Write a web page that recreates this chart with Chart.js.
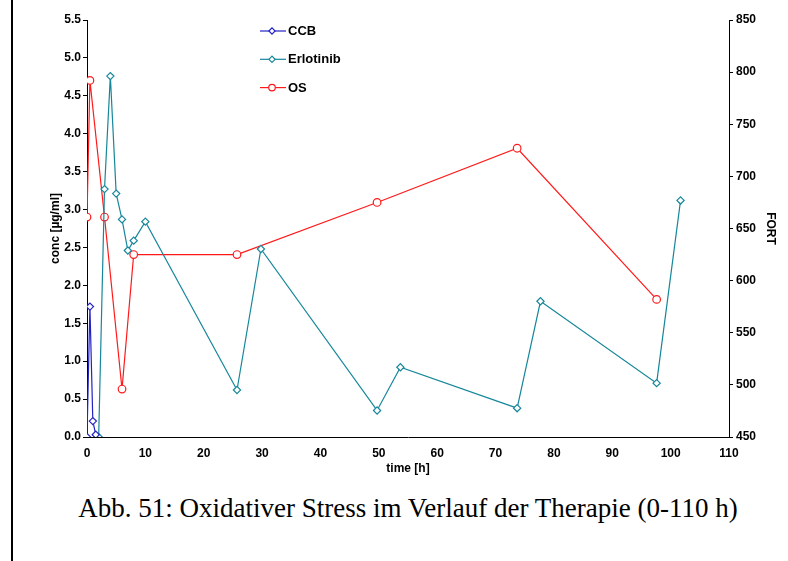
<!DOCTYPE html>
<html>
<head>
<meta charset="utf-8">
<script src="https://cdn.jsdelivr.net/npm/chart.js@4/dist/chart.umd.min.js"></script>
<style>
  html, body { margin: 0; padding: 0; background: #fff; }
  #page { position: relative; width: 788px; height: 561px; overflow: hidden; }
  #rule { position: absolute; left: 11px; top: 0; width: 2px; height: 561px; background: #000; }
  #plot { position: absolute; left: 0; top: 0; width: 788px; height: 480px; }
  #caption {
    position: absolute; left: 0; width: 816px; top: 491px; text-align: center;
    font-family: "Liberation Serif", "Times New Roman", serif; font-size: 27px; color: #000;
    line-height: 34px;
  }
</style>
</head>
<body>
<div id="page">
  <div id="rule"></div>
  <div id="plot"><canvas id="c" width="788" height="480"></canvas></div>
  <div id="caption">Abb. 51: Oxidativer Stress im Verlauf der Therapie (0-110 h)</div>
</div>
<script>
// time in hours
const ccbTime = [0, 0.5, 1, 1.5];
const ccbConc = [0, 1.72, 0.21, 0.03];

const erlTime = [2, 3, 4, 5, 6, 7, 8, 10, 25.7, 29.8, 49.7, 53.7, 73.7, 77.7, 97.6, 101.7];
const erlConc = [0, 3.27, 4.76, 3.21, 2.87, 2.46, 2.59, 2.84, 0.62, 2.48, 0.35, 0.92, 0.38, 1.79, 0.71, 3.12];

const osTime = [0, 0.5, 3, 6, 8, 25.7, 49.7, 73.7, 97.6];
const osFort = [661, 792, 661, 496, 625, 625, 675, 727, 582];

const xTicks = [0, 10, 20, 30, 40, 50, 60, 70, 80, 90, 100, 110];

const pts = (xs, ys) => xs.map((x, i) => ({ x, y: ys[i] }));
const FONT = "'Liberation Sans', Arial, sans-serif";
const tickFont = { family: FONT, size: 12, weight: "bold" };

function series(label, data, color, style, radius, axis) {
  return {
    label, data, yAxisID: axis, showLine: true,
    borderColor: color, borderWidth: 1.2,
    pointStyle: style, pointRadius: radius, pointBorderWidth: 1.2,
    pointBorderColor: color, pointBackgroundColor: "#fff",
    backgroundColor: color,
  };
}

// legend drawn inside the plot, one row per dataset
const innerLegend = {
  id: "innerLegend",
  afterDraw(chart) {
    const ctx = chart.ctx;
    ctx.save();
    ctx.font = "bold 13px " + FONT;
    ctx.textBaseline = "middle";
    chart.data.datasets.forEach((ds, i) => {
      const y = 31 + i * 28.3;
      ctx.strokeStyle = ds.borderColor;
      ctx.lineWidth = 1.2;
      ctx.beginPath(); ctx.moveTo(260, y); ctx.lineTo(286, y); ctx.stroke();
      ctx.fillStyle = "#fff";
      Chart.helpers.drawPoint(ctx, { pointStyle: ds.pointStyle, radius: ds.pointRadius - 0.5, rotation: 0, borderWidth: 1.2 }, 272, y);
      ctx.fillStyle = "#000";
      ctx.fillText(ds.label, 288, y + 0.5);
    });
    ctx.restore();
  },
};

new Chart(document.getElementById("c"), {
  type: "scatter",
  data: {
    datasets: [
      series("CCB", pts(ccbTime, ccbConc), "#2424c4", "rectRot", 3.6, "y"),
      series("Erlotinib", pts(erlTime, erlConc), "#16879a", "rectRot", 3.6, "y"),
      series("OS", pts(osTime, osFort), "#ff1a1a", "circle", 3.8, "y2"),
    ],
  },
  options: {
    responsive: false, animation: false,
    layout: { padding: { left: 48, top: 20, right: 10, bottom: 2 } },
    plugins: { legend: { display: false }, tooltip: { enabled: false } },
    elements: { line: { tension: 0 } },
    scales: {
      x: {
        type: "linear", position: "bottom", min: 0, max: 110,
        afterBuildTicks: (s) => { s.ticks = xTicks.map((v) => ({ value: v })); },
        afterFit: (s) => { s.height = 41; },
        grid: { display: false },
        border: { display: true, color: "#000", width: 1 },
        ticks: { color: "#000", font: tickFont, padding: 1, maxRotation: 0 },
        title: { display: true, text: "time [h]", color: "#000", font: tickFont, padding: { top: 0, bottom: 2 } },
      },
      y: {
        position: "left", min: 0, max: 5.5,
        afterFit: (s) => { s.width = 39; },
        grid: { drawOnChartArea: false, tickLength: 4, color: "#000" },
        border: { display: true, color: "#000", width: 1 },
        ticks: { stepSize: 0.5, color: "#000", font: tickFont, padding: 2, callback: (v) => v.toFixed(1) },
        title: { display: true, text: "conc [µg/ml]", color: "#000", font: tickFont, padding: 0 },
      },
      y2: {
        position: "right", min: 450, max: 850,
        afterFit: (s) => { s.width = 49; },
        grid: { drawOnChartArea: false, tickLength: 4, color: "#000" },
        border: { display: true, color: "#000", width: 1 },
        ticks: { stepSize: 50, color: "#000", font: tickFont, padding: 3 },
        title: { display: true, text: "FORT", color: "#000", font: tickFont, padding: 0 },
      },
    },
  },
  plugins: [innerLegend],
});
</script>
</body>
</html>
